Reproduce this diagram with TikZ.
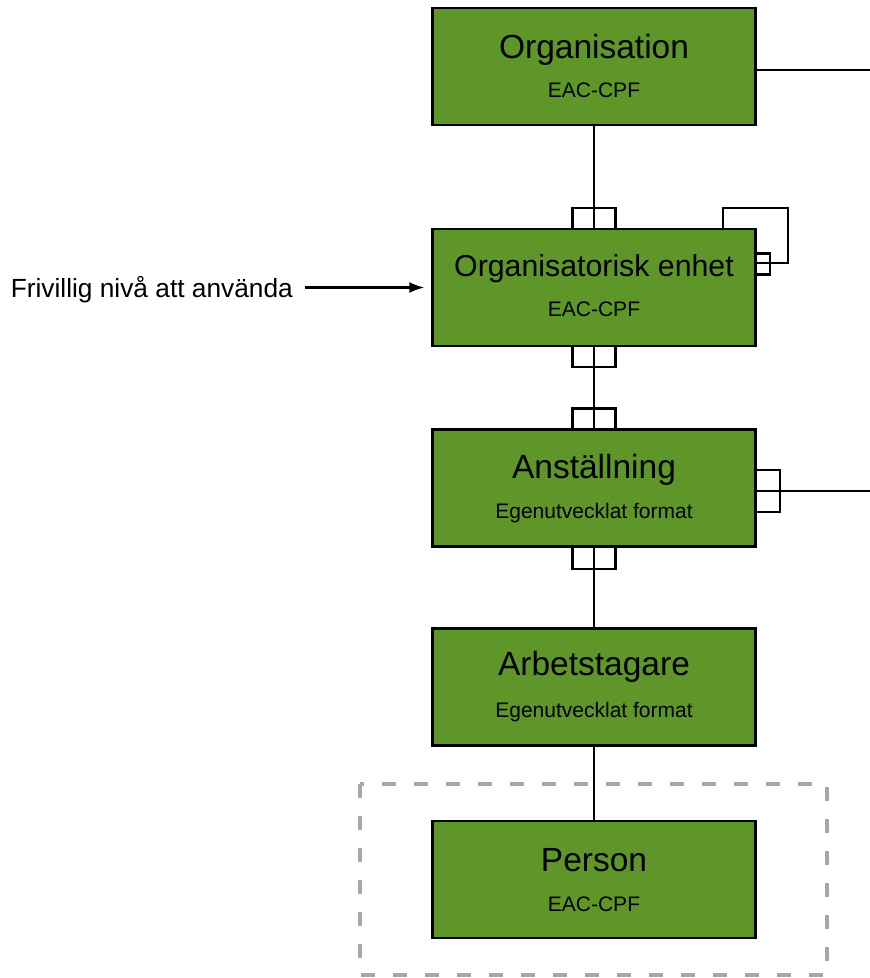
\documentclass[tikz,border=0pt]{standalone}
\usepackage{fontspec}
\setmainfont{Liberation Sans}
\usetikzlibrary{arrows.meta,positioning}
\definecolor{boxgreen}{RGB}{95,150,42}
\definecolor{framegray}{RGB}{170,167,167}

\begin{document}
\begin{tikzpicture}[x=1pt,y=-1pt,>={Latex[length=15pt,width=11pt]},line width=2.2pt,
    entity/.style={draw=black,fill=boxgreen,minimum width=323pt,minimum height=117pt,inner sep=0pt},
    title/.style={anchor=base,inner sep=0pt,font=\fontsize{33.5}{40}\selectfont},
    sub/.style={anchor=base,inner sep=0pt,font=\fontsize{21}{25}\selectfont}]
    \useasboundingbox (0,0) rectangle (870,978);

    % boxes
    \node[entity] (org) at (594,66.5) {};
    \node[entity] (enh) at (594,287.5) {};
    \node[entity] (ans) at (594,488) {};
    \node[entity] (arb) at (594,687) {};
    \node[entity] (per) at (594,879.5) {};

    \node[title] (orgT) at ([yshift=-52pt]org.north) {Organisation};
    \node[sub] (orgS) at ([yshift=-91pt]org.north) {EAC-CPF};
    \node[title,font=\fontsize{30.3}{36}\selectfont] (enhT) at ([yshift=-49pt]enh.north) {Organisatorisk enhet};
    \node[sub] (enhS) at ([yshift=-89pt]enh.north) {EAC-CPF};
    \node[title] (ansT) at ([yshift=-50pt]ans.north) {Anställning};
    \node[sub] (ansS) at ([yshift=-90pt]ans.north) {Egenutvecklat format};
    \node[title] (arbT) at ([yshift=-48pt]arb.north) {Arbetstagare};
    \node[sub] (arbS) at ([yshift=-90pt]arb.north) {Egenutvecklat format};
    \node[title] (perT) at ([yshift=-52pt]per.north) {Person};
    \node[sub] (perS) at ([yshift=-92pt]per.north) {EAC-CPF};

    % optional level
    \node[anchor=base east,inner sep=0pt,font=\fontsize{26.3}{32}\selectfont] (note) at (294,297) {Frivillig nivå att använda};
    \draw[->] ([xshift=11pt]note.east |- enh.west) -- ([xshift=-7pt]enh.west);

    % relations
    \draw (org) -- (enh);
    \draw (enh) -- (ans);
    \draw (ans) -- (arb);
    \draw (arb) -- (per);
    \draw ([xshift=-21.5pt]enh.north) -- ++(0,-20) -- ++(43,0) -- ++(0,20);
    \draw ([xshift=-21.5pt]enh.south) -- ++(0,20) -- ++(43,0) -- ++(0,-20);
    \draw ([xshift=-21.5pt]ans.north) -- ++(0,-20) -- ++(43,0) -- ++(0,20);
    \draw ([xshift=-21.5pt]ans.south) -- ++(0,21) -- ++(43,0) -- ++(0,-21);

    % self relation
    \draw ([xshift=129pt]enh.north) |- ++(65,-20) |- ([yshift=24.5pt]enh.east);
    \draw ([yshift=34pt]enh.east) -- ++(13,0) -- ++(0,21) -- ++(-13,0);

    % outgoing
    \coordinate (orgR) at (870,70);
    \coordinate (ansR) at (870,491);
    \draw (org.east |- orgR) -- (orgR);
    \draw (ans.east |- ansR) -- (ansR);
    \draw (ans.east |- ansR) ++(0,-21) -- ++(23,0) -- ++(0,42) -- ++(-23,0);

    % frame
    \draw[framegray,line width=4pt,dash pattern=on 14pt off 18pt] (360,784) rectangle (827,975);
\end{tikzpicture}
\end{document}
